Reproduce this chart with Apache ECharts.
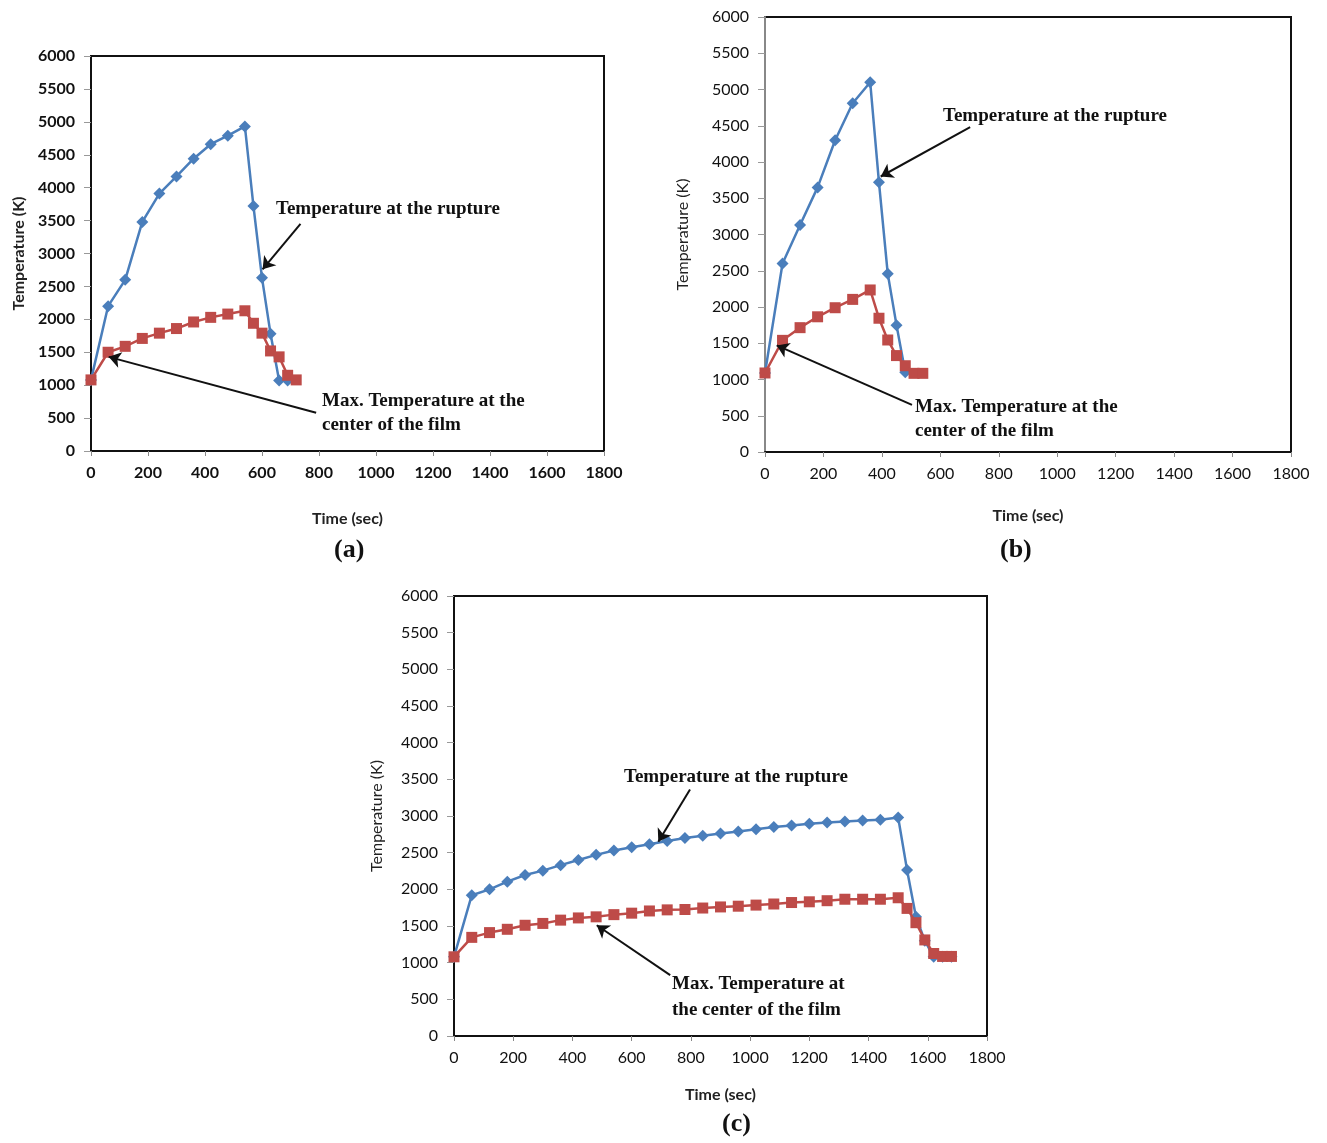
<!DOCTYPE html>
<html><head><meta charset="utf-8">
<script src="https://cdn.jsdelivr.net/npm/echarts@6/dist/echarts.min.js"></script>
<style>html,body{margin:0;padding:0;background:#fff}#c{width:1327px;height:1143px}</style>
</head><body><div id="c"></div>
<script>
// ---- Panel (a)
const timeA_rupture = [0,60,120,180,240,300,360,420,480,540,570,600,630,660,690];
const tempA_rupture = [1080,2200,2600,3480,3910,4170,4440,4660,4790,4930,3720,2630,1780,1070,1070];
const timeA_center = [0,60,120,180,240,300,360,420,480,540,570,600,630,660,690,720];
const tempA_center = [1080,1500,1590,1710,1790,1860,1960,2030,2080,2130,1940,1790,1520,1430,1150,1080];
// ---- Panel (b)
const timeB_rupture = [0,60,120,180,240,300,360,390,420,450,480];
const tempB_rupture = [1090,2600,3130,3650,4300,4810,5100,3720,2460,1750,1100];
const timeB_center = [0,60,120,180,240,300,360,390,420,450,480,510,540];
const tempB_center = [1090,1540,1715,1865,1990,2105,2235,1845,1545,1330,1190,1085,1085];
// ---- Panel (c)
const timeC_rupture = [0,60,120,180,240,300,360,420,480,540,600,660,720,780,840,900,960,1020,1080,1140,1200,1260,1320,1380,1440,1500,1530,1560,1590,1620,1650,1680];
const tempC_rupture = [1080,1920,2000,2105,2195,2255,2330,2400,2470,2530,2575,2615,2660,2700,2730,2760,2790,2820,2850,2870,2895,2910,2925,2940,2950,2980,2265,1625,1300,1080,1080,1080];
const timeC_center = [0,60,120,180,240,300,360,420,480,540,600,660,720,780,840,900,960,1020,1080,1140,1200,1260,1320,1380,1440,1500,1530,1560,1590,1620,1650,1680];
const tempC_center = [1080,1345,1410,1455,1510,1535,1580,1610,1625,1655,1675,1705,1720,1725,1745,1760,1770,1785,1800,1820,1830,1845,1865,1865,1865,1885,1740,1545,1310,1125,1085,1085];
// ---- axes
const xTicks = {min:0, max:1800, interval:200};
const yTicks = {min:0, max:6000, interval:500};
const labelsRupture = 'Temperature at the rupture';
// arrows [from, to] in data units
const arrowsA = [[[735,3450],[602,2760]], [[790,580],[62,1430]]];
const arrowsB = [[[702,4480],[396,3800]], [[503,650],[40,1470]]];
const arrowsC = [[[797,3360],[690,2650]], [[730,830],[482,1510]]];

const BLUE = '#4a7ebb', RED = '#be4b48';
const tickFont = 'Lato, "DejaVu Sans", sans-serif';
const serif = '"Liberation Serif", "DejaVu Serif", serif';

const grids = [
  {left:91, top:56, width:513, height:395},
  {left:765, top:17, width:526, height:435},
  {left:454, top:596, width:533, height:440}
];
const bold = [ 'bold', 'normal', 'normal'];
const yNameGap = [64, 74, 69];
const xNameGap = [60, 56, 51];

function mkX(i){
  return {type:'value', gridIndex:i, min:xTicks.min, max:xTicks.max, interval:xTicks.interval,
    name:'Time (sec)', nameLocation:'middle', nameGap: xNameGap[i],
    nameTextStyle:{fontFamily:tickFont, fontSize:16, fontWeight:'bold', color:'#222'},
    axisLine:{show:true, lineStyle:{color:'#111', width:2}},
    axisTick:{show:true, length:5, lineStyle:{color:'#888'}},
    axisLabel:{fontFamily:tickFont, fontSize:16, fontWeight:bold[i], color:'#111', margin:14, formatter:v=>String(v)},
    splitLine:{show:false}};
}
function mkY(i){
  return {type:'value', gridIndex:i, min:yTicks.min, max:yTicks.max, interval:yTicks.interval,
    name:'Temperature (K)', nameLocation:'middle', nameGap: yNameGap[i], nameRotate:90,
    nameTextStyle:{fontFamily:tickFont, fontSize:16, fontWeight: i===0?'bold':'normal', color:'#222'},
    axisLine:{show:true, lineStyle:{color: i===1?'#888':'#111', width:2}},
    axisTick:{show:true, length:7, lineStyle:{color:'#999'}},
    axisLabel:{fontFamily:tickFont, fontSize:16, fontWeight:bold[i], color:'#111', margin:16, formatter:v=>String(v)},
    splitLine:{show:false}};
}
function zip(a,b){return a.map((v,k)=>[v,b[k]]);}
function arrowLine(arrs){
  return {silent:true, symbol:['none','arrow'], symbolSize:12,
    label:{show:false}, emphasis:{disabled:true},
    lineStyle:{color:'#111', width:2, type:'solid'},
    data: arrs.map(a=>[{coord:a[0]},{coord:a[1]}])};
}
function mkSeries(i, tr, vr, tc, vc, arrs){
  return [
    {type:'line', xAxisIndex:i, yAxisIndex:i, data:zip(tr,vr), symbol:'diamond', symbolSize:12,
      color:BLUE, lineStyle:{width:2.5, color:BLUE}, itemStyle:{color:BLUE}, z:2, animation:false,
      markLine: arrowLine(arrs)},
    {type:'line', xAxisIndex:i, yAxisIndex:i, data:zip(tc,vc), symbol:'rect', symbolSize:11,
      color:RED, lineStyle:{width:2.5, color:RED}, itemStyle:{color:RED}, z:3, animation:false}
  ];
}
const annStyle = {fontFamily:serif, fontSize:19, fontWeight:'bold', fill:'#111'};
function txt(x,y,s,extra){return {type:'text', left:x, top:y, style:Object.assign({text:s}, annStyle, extra||{})};}

const chart = echarts.init(document.getElementById('c'), null, {renderer:'canvas'});
chart.setOption({
  animation:false,
  backgroundColor:'#fff',
  grid: grids.map(g=>Object.assign({show:true, borderColor:'#111', borderWidth:2, backgroundColor:'transparent'}, g)),
  xAxis:[mkX(0), mkX(1), mkX(2)],
  yAxis:[mkY(0), mkY(1), mkY(2)],
  series:[
    ...mkSeries(0, timeA_rupture, tempA_rupture, timeA_center, tempA_center, arrowsA),
    ...mkSeries(1, timeB_rupture, tempB_rupture, timeB_center, tempB_center, arrowsB),
    ...mkSeries(2, timeC_rupture, tempC_rupture, timeC_center, tempC_center, arrowsC)
  ],
  graphic:[
    txt(276, 200, labelsRupture),
    txt(322, 392, 'Max. Temperature at the'),
    txt(322, 416, 'center of the film'),
    txt(943, 107, labelsRupture),
    txt(915, 398, 'Max. Temperature at the'),
    txt(915, 422, 'center of the film'),
    txt(624, 768, labelsRupture),
    txt(672, 975, 'Max. Temperature at'),
    txt(672, 1001, 'the center of the film'),
    txt(334, 537, '(a)', {fontSize:26}),
    txt(1000, 537, '(b)', {fontSize:26}),
    txt(722, 1111, '(c)', {fontSize:26})
  ]
});
</script></body></html>
